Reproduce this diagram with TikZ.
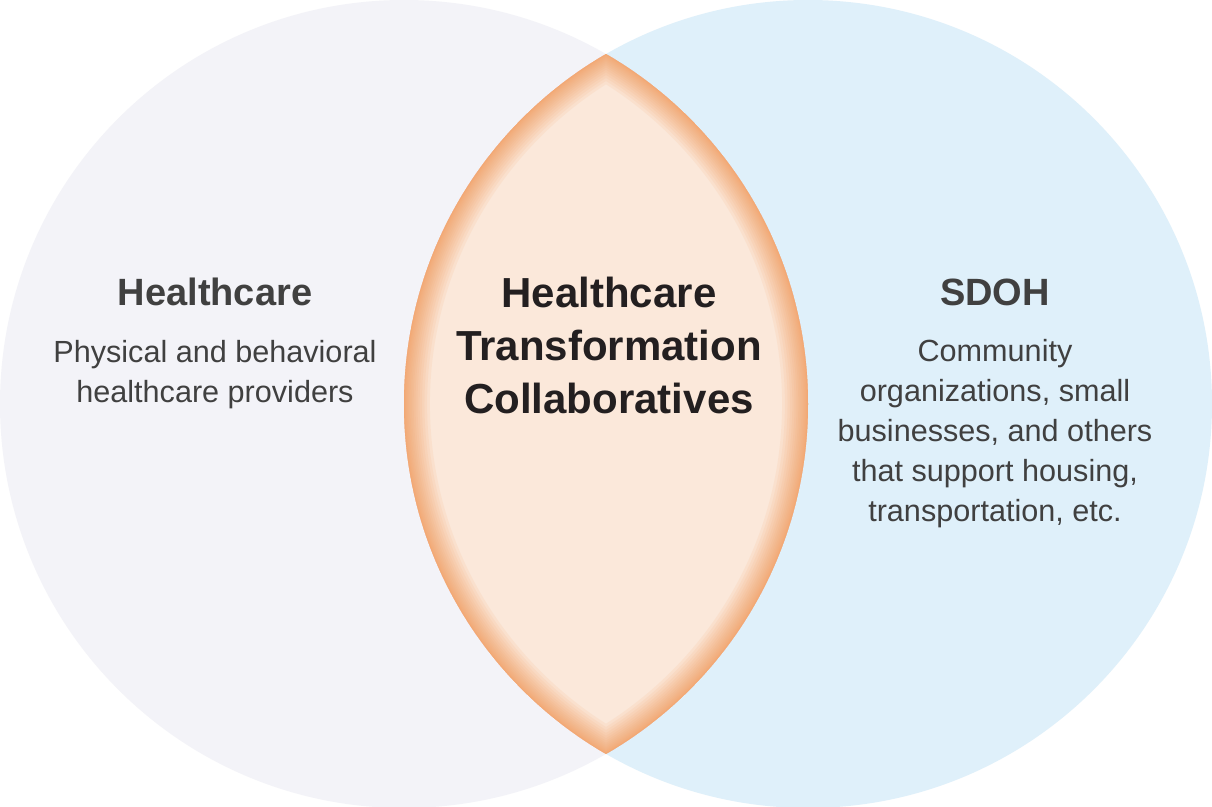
\documentclass[tikz,border=0pt]{standalone}
\usepackage{fontspec}
\setmainfont{Liberation Sans}
\usetikzlibrary{positioning}

\definecolor{leftfill}{HTML}{F3F3F8}
\definecolor{rightfill}{HTML}{DFF0FA}
\definecolor{lensfill}{HTML}{FBE8DA}
\definecolor{lensedge}{HTML}{F2A064}
\definecolor{sidetext}{HTML}{404040}
\definecolor{coretext}{HTML}{231F20}

\tikzstyle{head} = [text=sidetext, font=\fontsize{19}{23}\selectfont\bfseries, align=center]
\tikzstyle{body} = [text=sidetext, font=\fontsize{15.3}{20}\selectfont, align=center]
\tikzstyle{core} = [text=coretext, font=\fontsize{21}{26.5}\selectfont\bfseries, align=center]

\begin{document}
\begin{tikzpicture}[x=0.5pt,y=-0.5pt]
\useasboundingbox (0,0) rectangle (1212,807);
\fill[white] (0,0) rectangle (1212,807);

% the two sets
\fill[leftfill] (404,404) circle (404);
\fill[rightfill] (808,404) circle (404);

% overlap with inner glow
\begin{scope}
\clip (404,404) circle (404);
\clip (808,404) circle (404);
\fill[lensfill] (404,0) rectangle (808,807);
\foreach \i in {1,2,...,18}
  \draw[lensedge, line width=0.08*\i*\i pt, opacity=0.1] (404,404) circle (404) (808,404) circle (404);
\end{scope}

\node[head] (HC) at (215,292) {Healthcare};
\node[body] (HCd) [below=10pt of HC] {Physical and behavioral\\healthcare providers};

\node[head] (SD) at (995,292) {SDOH};
\node[body] (SDd) [below=10pt of SD] {Community\\organizations, small\\businesses, and others\\that support housing,\\transportation, etc.};

\node[core] (HTC) at (609,345) {Healthcare\\Transformation\\Collaboratives};

\end{tikzpicture}
\end{document}
